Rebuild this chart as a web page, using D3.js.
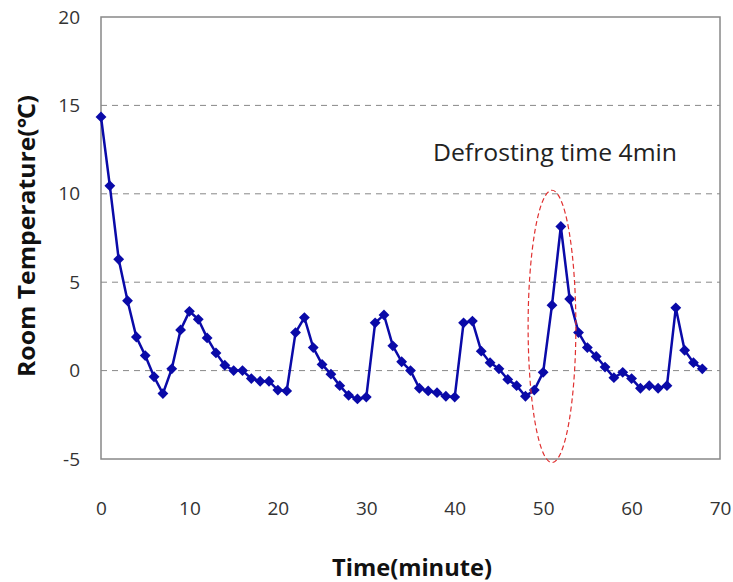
<!DOCTYPE html>
<html lang="en">
	<head>
		<meta charset="utf-8">
		<title>Room temperature</title>
		<script type="text/javascript" src="https://cdn.jsdelivr.net/npm/d3@7"></script>
		<style type="text/css">
			body { margin: 0; background: white; }
			text { font-family: "Open Sans", "Noto Sans", sans-serif; }
			.title { font-size: 24px; font-weight: bold; fill: #111; }
		</style>
	</head>
	<body>
		<script type="text/javascript">

			//Data
			let minutes = d3.range(0, 69);
			let temps = [
				14.35, 10.45, 6.3, 3.95, 1.9, 0.85, -0.35, -1.3, 0.1, 2.3,
				3.35, 2.9, 1.85, 1.0, 0.3, 0.0, 0.0, -0.45, -0.6, -0.6,
				-1.1, -1.15, 2.15, 3.0, 1.3, 0.35, -0.2, -0.85, -1.4, -1.6,
				-1.5, 2.7, 3.15, 1.4, 0.5, 0.0, -1.0, -1.15, -1.25, -1.45,
				-1.5, 2.7, 2.8, 1.1, 0.45, 0.1, -0.5, -0.85, -1.45, -1.1,
				-0.1, 3.7, 8.15, 4.05, 2.15, 1.3, 0.8, 0.2, -0.4, -0.1,
				-0.45, -1.0, -0.85, -1.0, -0.85, 3.55, 1.15, 0.45, 0.1
			];
			let xTicks = [0, 10, 20, 30, 40, 50, 60, 70];
			let yTicks = [-5, 0, 5, 10, 15, 20];
			let gridValues = [0, 5, 10, 15];
			let note = "Defrosting time 4min";
			//ellipse around the defrost peak, in data units
			let ring = { cx: 51.0, cy: 2.5, rx: 2.7, ry: 7.7 };

			let w = 733;
			let h = 582;
			let mLeft = 101, mRight = 720, mTop = 17, mBottom = 459;

			let x = d3.scaleLinear().domain([0, 70]).range([mLeft, mRight]);
			let y = d3.scaleLinear().domain([-5, 20]).range([mBottom, mTop]);

			let svg = d3.select("body")
						.append("svg")
						  .attr("width", w)
						  .attr("height", h);

			//Grid lines
			svg.selectAll("line.grid")
				.data(gridValues)
				.enter()
			  .append("line")
				.attr("class", "grid")
				.attr("x1", mLeft)
				.attr("x2", mRight)
				.attr("y1", d => y(d))
				.attr("y2", d => y(d))
				.attr("stroke", "#888")
				.attr("stroke-width", 1)
				.attr("stroke-dasharray", "6,5");

			//Frame
			svg.append("rect")
				.attr("x", mLeft)
				.attr("y", mTop)
				.attr("width", mRight - mLeft)
				.attr("height", mBottom - mTop)
				.attr("fill", "none")
				.attr("stroke", "#888")
				.attr("stroke-width", 1.5);

			//Axes, labels only
			let yAxis = d3.axisLeft(y).tickValues(yTicks).tickSize(0).tickPadding(21)
							.tickFormat(d => String(d));
			let xAxis = d3.axisBottom(x).tickValues(xTicks).tickSize(0).tickPadding(43)
							.tickFormat(d => String(d));

			svg.append("g")
				.attr("transform", `translate(${mLeft},0)`)
				.call(yAxis)
				.call(g => g.select(".domain").remove())
				.selectAll("text")
				  .attr("fill", "#333")
				  .style("font-size", "19px");

			svg.append("g")
				.attr("transform", `translate(0,${mBottom})`)
				.call(xAxis)
				.call(g => g.select(".domain").remove())
				.selectAll("text")
				  .attr("fill", "#333")
				  .style("font-size", "19px");

			//Series
			let points = minutes.map((m, i) => [m, temps[i]]);
			let line = d3.line().x(d => x(d[0])).y(d => y(d[1]));

			svg.append("path")
				.datum(points)
				.attr("d", line)
				.attr("fill", "none")
				.attr("stroke", "#0a0aa8")
				.attr("stroke-width", 2.5);

			let diamond = d3.symbol().type(d3.symbolDiamond2).size(75);
			svg.selectAll("path.pt")
				.data(points)
				.enter()
			  .append("path")
				.attr("class", "pt")
				.attr("d", diamond)
				.attr("transform", d => `translate(${x(d[0])},${y(d[1])})`)
				.attr("fill", "#0a0aa8");

			//Annotation
			svg.append("ellipse")
				.attr("cx", x(ring.cx))
				.attr("cy", y(ring.cy))
				.attr("rx", x(ring.cx + ring.rx) - x(ring.cx))
				.attr("ry", y(ring.cy) - y(ring.cy + ring.ry))
				.attr("fill", "none")
				.attr("stroke", "#e03030")
				.attr("stroke-width", 1.2)
				.attr("stroke-dasharray", "5,3");

			svg.append("text")
				.attr("x", 433)
				.attr("y", 161)
				.style("font-size", "24px")
				.attr("fill", "#222")
				.attr("textLength", 244)
				.attr("lengthAdjust", "spacingAndGlyphs")
				.text(note);

			//Titles
			svg.append("text")
				.attr("class", "title")
				.attr("x", 412)
				.attr("y", 576)
				.attr("text-anchor", "middle")
				.attr("textLength", 160)
				.attr("lengthAdjust", "spacingAndGlyphs")
				.text("Time(minute)");

			svg.append("text")
				.attr("class", "title")
				.attr("transform", "translate(35,236) rotate(-90)")
				.attr("text-anchor", "middle")
				.attr("textLength", 282)
				.attr("lengthAdjust", "spacingAndGlyphs")
				.text("Room Temperature(℃)");

		</script>
	</body>
</html>
